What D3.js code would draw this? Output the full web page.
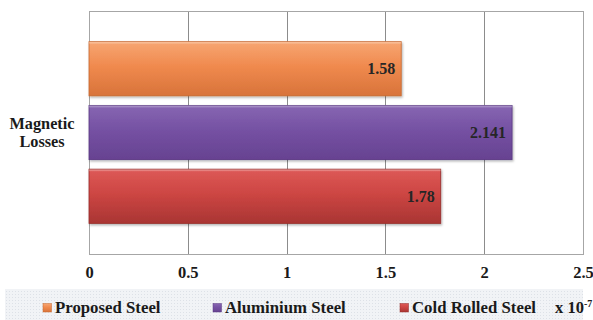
<!DOCTYPE html>
<html>
<head>
<meta charset="utf-8">
<script src="https://cdn.jsdelivr.net/npm/d3@7"></script>
<style>
  html, body { margin: 0; padding: 0; background: #fff; }
  svg { display: block; }
</style>
</head>
<body>
<svg id="chart" width="593" height="320"></svg>
<script>
// Magnetic losses per steel type (units of 1e-7)
const categories = ["Magnetic Losses"];
const seriesNames = ["Proposed Steel", "Aluminium Steel", "Cold Rolled Steel"];
const seriesValues = [1.58, 2.141, 1.78];
const valueLabels = ["1.58", "2.141", "1.78"];
const xTicks = [0, 0.5, 1, 1.5, 2, 2.5];
const tickLabels = ["0", "0.5", "1", "1.5", "2", "2.5"];
const seriesColors = [
  { top: "#f7a673", mid: "#f08a4e", bottom: "#d8733a", edge: "#c5682f" },
  { top: "#8766b2", mid: "#7551a3", bottom: "#674291", edge: "#5a3882" },
  { top: "#dd5957", mid: "#cd4643", bottom: "#a93533", edge: "#962c2a" }
];

const SERIF = "Liberation Serif";
const svg = d3.select("#chart");
const margin = { left: 89, right: 10, top: 11, bottom: 66 };
const W = 593, H = 320;
const plotW = W - margin.left - margin.right;
const plotH = H - margin.top - margin.bottom;

const defs = svg.append("defs");
seriesColors.forEach((c, i) => {
  const g = defs.append("linearGradient")
    .attr("id", "grad" + i).attr("x1", 0).attr("y1", 0).attr("x2", 0).attr("y2", 1);
  g.append("stop").attr("offset", "0%").attr("stop-color", c.top);
  g.append("stop").attr("offset", "45%").attr("stop-color", c.mid);
  g.append("stop").attr("offset", "100%").attr("stop-color", c.bottom);
});
// faint dotted texture behind the legend
const pat = defs.append("pattern").attr("id", "dots")
  .attr("width", 3).attr("height", 3).attr("patternUnits", "userSpaceOnUse");
pat.append("rect").attr("width", 3).attr("height", 3).attr("fill", "#f1f3f6");
pat.append("rect").attr("width", 1).attr("height", 1).attr("fill", "#dde1e7");
const shadow = defs.append("filter").attr("id", "shadow")
  .attr("x", "-5%").attr("y", "-10%").attr("width", "110%").attr("height", "130%");
shadow.append("feDropShadow").attr("dx", 1).attr("dy", 1.5).attr("stdDeviation", 1)
  .attr("flood-color", "#000").attr("flood-opacity", 0.3);

const x = d3.scaleLinear().domain([0, 2.5]).range([0, plotW]);
const yCat = d3.scaleBand().domain(categories).range([0, plotH]);
const yBar = d3.scaleBand().domain(seriesNames)
  .range([0, yCat.bandwidth()]).paddingInner(0.15).paddingOuter(0.48);

const g = svg.append("g").attr("transform", `translate(${margin.left},${margin.top})`);

// vertical gridlines
g.append("g").selectAll("line").data(xTicks).join("line")
  .attr("x1", d => Math.round(x(d)) + 0.5).attr("x2", d => Math.round(x(d)) + 0.5)
  .attr("y1", 0).attr("y2", plotH)
  .attr("stroke", "#8c8c8c").attr("stroke-width", 1);

// plot frame
g.append("rect").attr("x", 0.5).attr("y", 0.5)
  .attr("width", plotW).attr("height", plotH)
  .attr("fill", "none").attr("stroke", "#a6a6a6");

// bars
const bars = g.append("g").selectAll("g").data(seriesNames).join("g");
bars.append("rect")
  .attr("x", 0)
  .attr("y", d => yCat(categories[0]) + yBar(d))
  .attr("width", (d, i) => x(seriesValues[i]))
  .attr("height", yBar.bandwidth())
  .attr("fill", (d, i) => `url(#grad${i})`)
  .attr("stroke", (d, i) => seriesColors[i].edge)
  .attr("stroke-width", 0.8)
  .attr("filter", "url(#shadow)");
// light top edge highlight
bars.append("rect")
  .attr("x", 0)
  .attr("y", d => yCat(categories[0]) + yBar(d))
  .attr("width", (d, i) => x(seriesValues[i]))
  .attr("height", 2)
  .attr("fill", "#fff").attr("opacity", 0.25);

// value labels
bars.append("text")
  .attr("x", (d, i) => x(seriesValues[i]) - 6)
  .attr("y", d => yCat(categories[0]) + yBar(d) + yBar.bandwidth() / 2)
  .attr("dy", "0.35em")
  .attr("text-anchor", "end")
  .attr("font-family", SERIF).attr("font-weight", "bold").attr("font-size", 16)
  .attr("fill", "#262626")
  .text((d, i) => valueLabels[i]);

// x axis tick labels
const xAxis = d3.axisBottom(x).tickValues(xTicks)
  .tickFormat((d, i) => tickLabels[i]).tickSize(0).tickPadding(12);
const ax = g.append("g").attr("transform", `translate(0,${plotH})`).call(xAxis)
  .attr("font-family", SERIF).attr("font-size", 16.5).attr("font-weight", "bold");
ax.select(".domain").remove();
ax.selectAll("text").attr("fill", "#1a1a1a");

// category label
const catText = svg.append("text")
  .attr("text-anchor", "middle")
  .attr("font-family", SERIF).attr("font-weight", "bold").attr("font-size", 16.3)
  .attr("fill", "#1a1a1a");
catText.append("tspan").attr("x", 42).attr("y", 129).text("Magnetic");
catText.append("tspan").attr("x", 42).attr("y", 147).text("Losses");

// legend
svg.append("rect").attr("x", 5).attr("y", 289).attr("width", 578).attr("height", 31)
  .attr("fill", "url(#dots)");
const legendX = [43, 213, 400];
const leg = svg.append("g").selectAll("g").data(seriesNames).join("g")
  .attr("transform", (d, i) => `translate(${legendX[i]},0)`);
leg.append("rect").attr("x", 0).attr("y", 303.5).attr("width", 8.5).attr("height", 8.5)
  .attr("fill", (d, i) => `url(#grad${i})`)
  .attr("stroke", (d, i) => seriesColors[i].edge).attr("stroke-width", 0.5);
leg.append("text").attr("x", 12).attr("y", 313)
  .attr("font-family", SERIF).attr("font-weight", "bold").attr("font-size", 16.8)
  .attr("fill", "#1a1a1a")
  .text(d => d);

const unit = svg.append("text").attr("x", 555).attr("y", 313)
  .attr("font-family", SERIF).attr("font-weight", "bold").attr("font-size", 16.5)
  .attr("fill", "#1a1a1a");
unit.append("tspan").text("x 10");
unit.append("tspan").attr("dy", -6).attr("font-size", 10).text("-7");
</script>
</body>
</html>
